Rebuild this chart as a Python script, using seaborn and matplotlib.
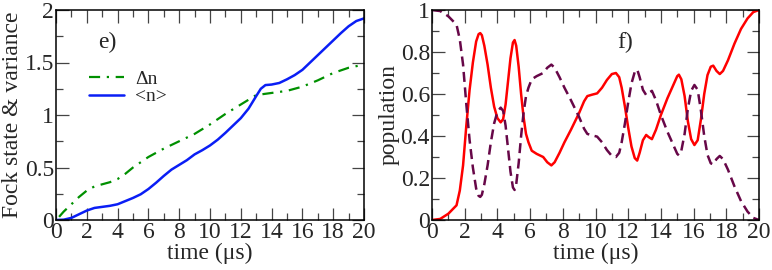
import matplotlib
matplotlib.use("Agg")
import matplotlib.pyplot as plt
import seaborn as sns
import pandas as pd
from matplotlib.ticker import MultipleLocator

# ---------------- data ----------------
t_left = [0, 0.5, 1, 1.5, 2, 2.5, 3, 3.5, 4, 4.5, 5, 5.5, 6, 6.5, 7, 7.5, 8, 8.5,
          9, 9.5, 10, 10.5, 11, 11.5, 12, 12.5, 13, 13.3, 13.6, 14, 14.5, 15,
          15.5, 16, 16.5, 17, 17.5, 18, 18.5, 19, 19.5, 20]
mean_n = [0.0, 0.003, 0.02, 0.055, 0.09, 0.115, 0.125, 0.135, 0.15, 0.18, 0.21,
          0.245, 0.295, 0.355, 0.42, 0.48, 0.525, 0.57, 0.625, 0.665, 0.71, 0.765,
          0.83, 0.9, 0.97, 1.06, 1.18, 1.25, 1.285, 1.29, 1.305, 1.34, 1.38, 1.43,
          1.5, 1.57, 1.64, 1.71, 1.78, 1.845, 1.895, 1.92]
t_dn = [0.2, 0.5, 1, 1.5, 2, 2.5, 3, 3.5, 4, 4.5, 5, 5.5, 6, 7, 8, 9, 10, 11, 12,
        13, 14, 15, 16, 17, 18, 19, 20]
delta_n = [0.03, 0.08, 0.15, 0.22, 0.28, 0.32, 0.34, 0.36, 0.39, 0.44, 0.50, 0.55,
           0.60, 0.68, 0.75, 0.82, 0.91, 1.01, 1.10, 1.19, 1.21, 1.23, 1.27, 1.33,
           1.40, 1.45, 1.48]

t_pop = [0, 0.5, 1.0, 1.5, 1.7, 1.9, 2.1, 2.3, 2.5, 2.7, 2.85, 2.95, 3.05, 3.2,
         3.4, 3.6, 3.8, 4.0, 4.2, 4.35, 4.5, 4.65, 4.8, 4.95, 5.05, 5.15, 5.3,
         5.45, 5.6, 5.75, 5.9, 6.1, 6.4, 6.8, 7.05, 7.3, 7.5, 7.8, 8.1, 8.5, 9.0,
         9.3, 9.5, 9.8, 10.1, 10.4, 10.7, 11.0, 11.25, 11.45, 11.6, 11.8, 12.0,
         12.2, 12.4, 12.55, 12.7, 12.9, 13.1, 13.25, 13.45, 13.7, 14.0, 14.4,
         14.8, 15.0, 15.1, 15.25, 15.45, 15.65, 15.85, 16.05, 16.25, 16.45,
         16.65, 16.85, 17.05, 17.2, 17.4, 17.6, 17.8, 18.1, 18.5, 18.9, 19.3,
         19.65, 20.0]
pop_red = [0.0, 0.005, 0.03, 0.07, 0.14, 0.26, 0.45, 0.62, 0.75, 0.85, 0.885,
           0.89, 0.88, 0.83, 0.74, 0.63, 0.54, 0.485, 0.465, 0.48, 0.55, 0.66,
           0.77, 0.845, 0.857, 0.83, 0.73, 0.6, 0.49, 0.41, 0.37, 0.33, 0.315,
           0.30, 0.275, 0.26, 0.275, 0.32, 0.37, 0.43, 0.51, 0.565, 0.59, 0.597,
           0.603, 0.63, 0.667, 0.695, 0.70, 0.68, 0.63, 0.54, 0.44, 0.35, 0.295,
           0.283, 0.32, 0.38, 0.405, 0.395, 0.385, 0.43, 0.5, 0.58, 0.65, 0.685,
           0.692, 0.67, 0.59, 0.47, 0.385, 0.357, 0.38, 0.48, 0.6, 0.69, 0.73,
           0.735, 0.71, 0.695, 0.71, 0.76, 0.84, 0.91, 0.96, 0.99, 1.0]
pop_dash = [1.0, 0.995, 0.97, 0.93, 0.86, 0.74, 0.55, 0.38, 0.25, 0.15, 0.115,
            0.11, 0.12, 0.17, 0.26, 0.37, 0.46, 0.515, 0.535, 0.52, 0.45, 0.34,
            0.23, 0.155, 0.143, 0.17, 0.27, 0.4, 0.51, 0.59, 0.63, 0.67, 0.685,
            0.70, 0.725, 0.74, 0.725, 0.68, 0.63, 0.57, 0.49, 0.435, 0.41, 0.403,
            0.397, 0.37, 0.333, 0.305, 0.30, 0.32, 0.37, 0.46, 0.56, 0.65, 0.705,
            0.717, 0.68, 0.62, 0.595, 0.605, 0.615, 0.57, 0.5, 0.42, 0.35, 0.315,
            0.308, 0.33, 0.41, 0.53, 0.615, 0.643, 0.62, 0.52, 0.4, 0.31, 0.27,
            0.265, 0.29, 0.305, 0.29, 0.24, 0.16, 0.09, 0.04, 0.01, 0.0]

left_yticks = [0, 0.5, 1, 1.5, 2]
left_ylabels = ["0", "0.5", "1", "1.5", "2"]
right_yticks = [0, 0.2, 0.4, 0.6, 0.8, 1]
right_ylabels = ["0", "0.2", "0.4", "0.6", "0.8", "1"]
xticks = list(range(0, 21, 2))

# ---------------- style ----------------
sns.set_style("ticks")
plt.rcParams["font.family"] = ["Liberation Serif", "DejaVu Serif"]
plt.rcParams["font.weight"] = "normal"
FS = 17

fig = plt.figure(figsize=(7.72, 2.70), dpi=100)
W, H = 772, 270
axL = fig.add_axes([56 / W, 1 - 220 / H, (364 - 56) / W, 210 / H])
axR = fig.add_axes([432 / W, 1 - 220 / H, (759 - 432) / W, 210 / H])

df_dn = pd.DataFrame({"t": t_dn, "v": delta_n})
df_n = pd.DataFrame({"t": t_left, "v": mean_n})
sns.lineplot(data=df_dn, x="t", y="v", ax=axL, color="#009000", lw=1.6,
             label="\u0394n", sort=False)
axL.lines[-1].set_dashes((5, 3, 1, 3))
sns.lineplot(data=df_n, x="t", y="v", ax=axL, color="#0a1ef5", lw=1.8,
             label="<n>", sort=False)

df_r = pd.DataFrame({"t": t_pop, "v": pop_red})
df_d = pd.DataFrame({"t": t_pop, "v": pop_dash})
sns.lineplot(data=df_r, x="t", y="v", ax=axR, color="#ff0000", lw=1.8, sort=False)
sns.lineplot(data=df_d, x="t", y="v", ax=axR, color="#670748", lw=1.8, sort=False)
axR.lines[-1].set_dashes((4, 2.2))

for ax in (axL, axR):
    ax.set_xlim(0, 20)
    ax.set_xticks(xticks)
    ax.set_xticklabels([str(v) for v in xticks])
    ax.xaxis.set_minor_locator(MultipleLocator(1))
    ax.tick_params(which="both", direction="in", top=True, right=True,
                   labelsize=FS, width=0.9, color="#444444", pad=1.5)
    ax.tick_params(which="major", length=9)
    ax.tick_params(which="minor", length=5)
    for s in ax.spines.values():
        s.set_linewidth(1.1)
        s.set_color("black")
    ax.set_xlabel("time (\u03bcs)", fontsize=FS, labelpad=0, fontweight="normal")

axL.set_ylim(0, 2)
axL.set_yticks(left_yticks)
axL.set_yticklabels(left_ylabels)
axL.yaxis.set_minor_locator(MultipleLocator(0.25))
axL.set_ylabel("Fock state & variance", fontsize=FS, labelpad=1)

axR.set_ylim(0, 1)
axR.set_yticks(right_yticks)
axR.set_yticklabels(right_ylabels)
axR.yaxis.set_minor_locator(MultipleLocator(0.1))
axR.set_ylabel("population", fontsize=FS, labelpad=1)

leg = axL.legend(loc="upper left", bbox_to_anchor=(0.075, 0.76), frameon=False,
                 fontsize=14, handlelength=1.8, handletextpad=0.6,
                 labelspacing=0.0, borderpad=0)

axL.text(0.165, 0.845, "e)", transform=axL.transAxes, fontsize=FS,
         ha="center", va="center")
axR.text(0.59, 0.845, "f)", transform=axR.transAxes, fontsize=FS,
         ha="center", va="center")

fig.savefig("out.png", dpi=100)
